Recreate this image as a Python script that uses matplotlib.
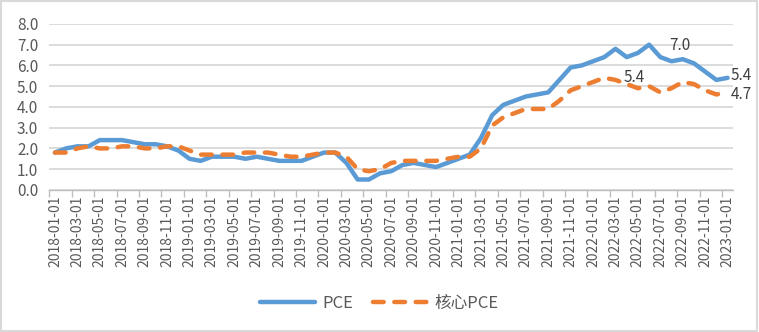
import numpy as np
import matplotlib
matplotlib.use('Agg')
import matplotlib.pyplot as plt
from matplotlib.patches import Rectangle

plt.rcParams['font.family'] = ['Noto Sans CJK SC', 'DejaVu Sans']

# monthly, 2018-01 .. 2023-01
months = [f'{y}-{m:02d}-01' for y in range(2018, 2024) for m in range(1, 13)][:61]

pce = [1.8, 2.0, 2.1, 2.1, 2.4, 2.4, 2.4, 2.3, 2.2, 2.2, 2.1, 1.9,
       1.5, 1.4, 1.6, 1.6, 1.6, 1.5, 1.6, 1.5, 1.4, 1.4, 1.4, 1.6,
       1.8, 1.8, 1.3, 0.5, 0.5, 0.8, 0.9, 1.2, 1.3, 1.2, 1.1, 1.3,
       1.5, 1.7, 2.5, 3.6, 4.1, 4.3, 4.5, 4.6, 4.7, 5.3, 5.9, 6.0,
       6.2, 6.4, 6.8, 6.4, 6.6, 7.0, 6.4, 6.2, 6.3, 6.1, 5.7, 5.3,
       5.4]
core_pce = [1.8, 1.8, 2.0, 2.1, 2.0, 2.0, 2.1, 2.1, 2.0, 2.0, 2.1, 2.1,
            1.9, 1.7, 1.7, 1.7, 1.7, 1.8, 1.8, 1.8, 1.7, 1.6, 1.6, 1.7,
            1.8, 1.8, 1.6, 1.0, 0.9, 1.0, 1.3, 1.4, 1.4, 1.4, 1.4, 1.5,
            1.6, 1.6, 2.0, 3.1, 3.5, 3.7, 3.9, 3.9, 3.9, 4.3, 4.8, 5.0,
            5.2, 5.4, 5.3, 5.1, 4.9, 5.0, 4.7, 4.9, 5.2, 5.1, 4.8, 4.6,
            4.7]

# labelled points: (series, month index, pixel offset)
labels = [(pce, 53, (20, -1)), (core_pce, 49, (19, 0)),
          (pce, 60, (3, 2)), (core_pce, 60, (3, -2))]

blue = '#5B9BD5'
orange = '#ED7D31'
grid = '#D9D9D9'
txt = '#595959'

fig = plt.figure(figsize=(7.59, 3.32), dpi=100)
ax = fig.add_axes([0.065, 0.428, 0.901, 0.5])

x = np.arange(len(months))
ax.plot(x, pce, color=blue, lw=3.2, solid_joinstyle='round',
        solid_capstyle='round', label='PCE', zorder=3)
ax.plot(x, core_pce, color=orange, lw=3.2, ls=(0, (2.4, 2.4)),
        dash_capstyle='round', label='核心PCE', zorder=4)

ax.set_xlim(-0.5, len(months) - 0.5)
ax.set_ylim(0, 8)
ax.set_yticks(np.arange(0, 9, 1))
ax.set_yticklabels([f'{v:.1f}' for v in range(9)])
ax.grid(axis='y', color=grid, lw=1.3)
ax.set_axisbelow(True)

# tick marks at category boundaries, labels at category centres
ax.set_xticks(np.arange(-0.5, len(months), 2))
ax.set_xticklabels([])
ax.set_xticks(x[::2], minor=True)
ax.set_xticklabels(months[::2], minor=True, rotation=90)
ax.tick_params(axis='x', which='major', length=5, color='#BFBFBF', width=1)
ax.tick_params(axis='x', which='minor', length=0, pad=4,
               labelsize=10, labelcolor=txt)
ax.tick_params(axis='y', length=0, labelsize=11, labelcolor=txt, pad=8)

for s in ['top', 'right', 'left']:
    ax.spines[s].set_visible(False)
ax.spines['bottom'].set_color('#BFBFBF')
ax.spines['bottom'].set_linewidth(1)

for series, i, off in labels:
    ax.annotate(f'{series[i]:.1f}', (x[i], series[i]), xytext=off,
                textcoords='offset pixels', ha='left', va='center',
                fontsize=11, color='#404040', zorder=5)

leg = fig.legend(loc='center', bbox_to_anchor=(0.5, 0.085), ncol=2,
                 frameon=False, fontsize=12, handlelength=3.3,
                 handletextpad=0.4, columnspacing=1.2)
for t in leg.get_texts():
    t.set_color(txt)

fig.patches.append(Rectangle((0.001, 0.002), 0.997, 0.995,
                             transform=fig.transFigure, fill=False,
                             edgecolor=grid, lw=1.5))

fig.savefig('out.png', dpi=100)
